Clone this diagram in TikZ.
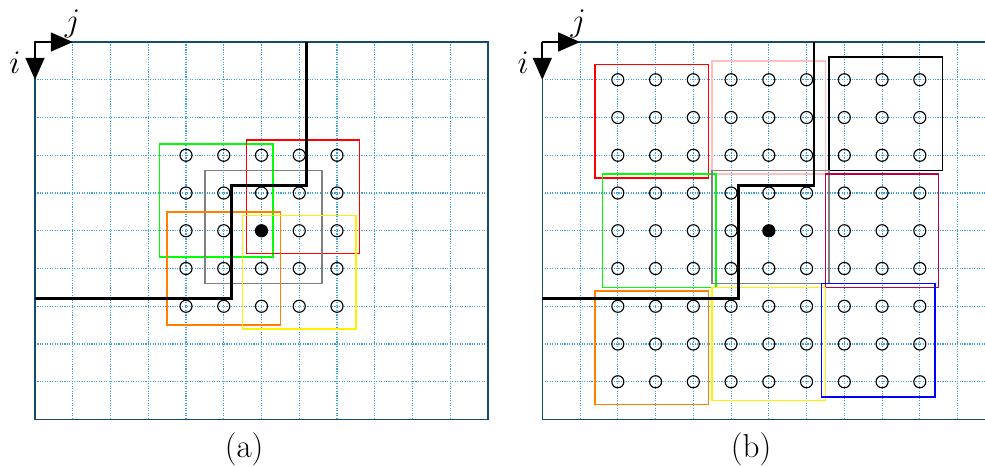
\documentclass[tikz,border=0pt]{standalone}
\usetikzlibrary{arrows.meta}
\definecolor{azulmalla}{RGB}{60,160,220}
\definecolor{azulmarco}{RGB}{20,75,115}
\begin{document}
\begin{tikzpicture}[
        malla/.style={azulmalla, line width=0.85pt, densely dotted},
        marco/.style={azulmarco, line width=1.1pt},
        frontera/.style={black, line width=2pt},
        ventana/.style={line width=1.1pt},
        punto/.style={black, line width=0.85pt},
        eje/.style={black, line width=1.4pt, -{Triangle[length=0.58cm, width=0.5cm]}},
        etiqueta/.style={font=\fontsize{25}{30}\selectfont, inner sep=0pt}
    ]
        \useasboundingbox (-0.927,1.113) rectangle (25.166,-11.258);

        % (a)
        \foreach \x in {1,...,11} \draw[malla] (\x,0) -- (\x,-10);
        \foreach \y in {1,...,9} \draw[malla] (0,-\y) -- (12,-\y);
        \draw[marco] (0,0) rectangle (12,-10);

        \draw[ventana, green] (3.3,-2.7) rectangle (6.3,-5.7);
        \draw[ventana, red] (5.6,-2.6) rectangle (8.6,-5.6);
        \draw[ventana, gray] (4.5,-3.4) rectangle (7.6,-6.4);
        \draw[ventana, orange] (3.5,-4.5) rectangle (6.5,-7.5);
        \draw[ventana, yellow] (5.5,-4.6) rectangle (8.5,-7.6);

        \draw[frontera] (7.2,0) -- (7.2,-3.8) -- (5.2,-3.8) -- (5.2,-6.8) -- (0,-6.8);

        \foreach \x in {4,...,8}
            \foreach \y in {3,...,7}
                \draw[punto] (\x,-\y) circle (0.16);
        \fill (6,-5) circle (0.16);

        \coordinate (oa) at (0,0);
        \coordinate (ja) at (1,0);
        \coordinate (ia) at (0,-1);
        \draw[eje] (oa) -- (ja);
        \draw[eje] (oa) -- (ia);
        \node[etiqueta] (lja) at (0.99,0.47) {$j$};
        \node[etiqueta] (lia) at (-0.53,-0.55) {$i$};
        \node[etiqueta] (capa) at (5.54,-10.8) {(a)};

        % (b)
        \begin{scope}[xshift=13.439cm]
            \clip (-1,1.2) rectangle (11.727,-11.3);
            \foreach \x in {1,...,11} \draw[malla] (\x,0) -- (\x,-10);
            \foreach \y in {1,...,9} \draw[malla] (0,-\y) -- (12,-\y);
            \draw[marco] (12,0) -- (0,0) -- (0,-10) -- (12,-10);

            \draw[ventana, red] (1.4,-0.6) rectangle (4.4,-3.6);
            \draw[ventana, pink] (4.5,-0.5) rectangle (7.5,-3.5);
            \draw[ventana, black] (7.6,-0.4) rectangle (10.6,-3.4);
            \draw[ventana, green] (1.6,-3.5) rectangle (4.6,-6.5);
            \draw[ventana, gray] (4.5,-3.4) rectangle (7.6,-6.4);
            \draw[ventana, purple] (7.5,-3.5) rectangle (10.5,-6.5);
            \draw[ventana, orange] (1.4,-6.6) rectangle (4.4,-9.6);
            \draw[ventana, yellow] (4.5,-6.5) rectangle (7.5,-9.5);
            \draw[ventana, blue] (7.4,-6.4) rectangle (10.4,-9.4);

            \draw[frontera] (7.2,0) -- (7.2,-3.8) -- (5.2,-3.8) -- (5.2,-6.8) -- (0,-6.8);

            \foreach \x in {2,...,10}
                \foreach \y in {1,...,9}
                    \draw[punto] (\x,-\y) circle (0.16);
            \fill (6,-5) circle (0.16);

            \coordinate (ob) at (0,0);
            \coordinate (jb) at (1,0);
            \coordinate (ib) at (0,-1);
            \draw[eje] (ob) -- (jb);
            \draw[eje] (ob) -- (ib);
            \node[etiqueta] (ljb) at (0.95,0.47) {$j$};
            \node[etiqueta] (lib) at (-0.51,-0.55) {$i$};
            \node[etiqueta] (capb) at (5.53,-10.8) {(b)};
        \end{scope}
    \end{tikzpicture}
\end{document}
